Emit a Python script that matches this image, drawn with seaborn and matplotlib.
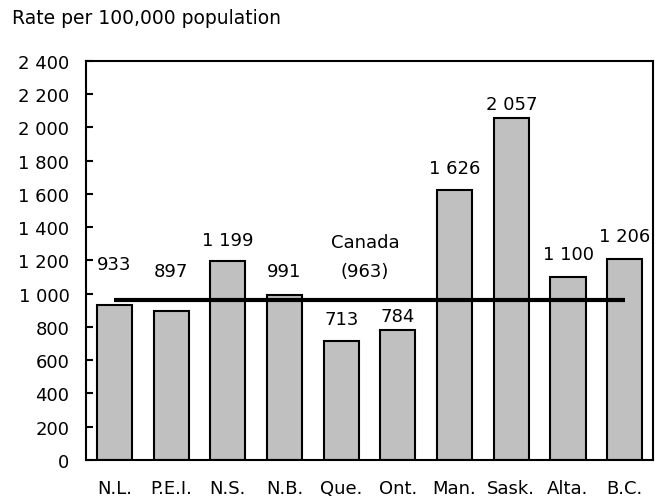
import matplotlib
matplotlib.use("Agg")
import matplotlib.pyplot as plt
import matplotlib.ticker as mticker
import seaborn as sns

provinces = ["N.L.", "P.E.I.", "N.S.", "N.B.", "Que.", "Ont.", "Man.", "Sask.", "Alta.", "B.C."]
rates = [933, 897, 1199, 991, 713, 784, 1626, 2057, 1100, 1206]
canada_rate = 963

# label offsets above bar tops, in pixels (labels are not placed uniformly in the original)
label_offsets = [41, 40, 21, 24, 22, 14, 22, 14, 23, 23]


def fmt_space(v, pos=None):
    return f"{int(v):,}".replace(",", " ")


sns.set_theme(style="white")
plt.rcParams["font.family"] = ["DejaVu Sans"]
plt.rcParams["text.color"] = "black"
FS = 13

fig = plt.figure(figsize=(6.57, 5.02), dpi=100)
ax = fig.add_axes([0.131, 0.0817, 0.863, 0.7948])

sns.barplot(x=provinces, y=rates, color="#c0c0c0", saturation=1,
            edgecolor="black", linewidth=1.5, width=0.62, ax=ax)

ax.hlines(canada_rate, 0, len(provinces) - 1, color="black", linewidth=3, zorder=5)

for i, (v, off) in enumerate(zip(rates, label_offsets)):
    ax.annotate(fmt_space(v), xy=(i, v), xytext=(0, off), textcoords="offset pixels",
                ha="center", va="center", fontsize=FS, color="black")

ax.text(4.42, 1310, "Canada", ha="center", va="center", fontsize=FS, color="black")
ax.text(4.42, 1135, f"({canada_rate})", ha="center", va="center", fontsize=FS, color="black")

ax.set_ylim(0, 2400)
ax.set_xlim(-0.5, len(provinces) - 0.5)
ax.yaxis.set_major_locator(mticker.MultipleLocator(200))
ax.yaxis.set_major_formatter(mticker.FuncFormatter(fmt_space))
ax.tick_params(axis="y", direction="in", length=5, width=1.5, left=True, pad=12,
               labelsize=FS, colors="black")
ax.tick_params(axis="x", length=0, pad=14, labelsize=FS, colors="black")
ax.set_xlabel("")
ax.set_ylabel("")
for s in ax.spines.values():
    s.set_color("black")
    s.set_linewidth(1.5)

fig.text(0.018, 0.964, "Rate per 100,000 population", ha="left", va="center",
         fontsize=13.5, color="black")

fig.savefig("out.png", dpi=100)
